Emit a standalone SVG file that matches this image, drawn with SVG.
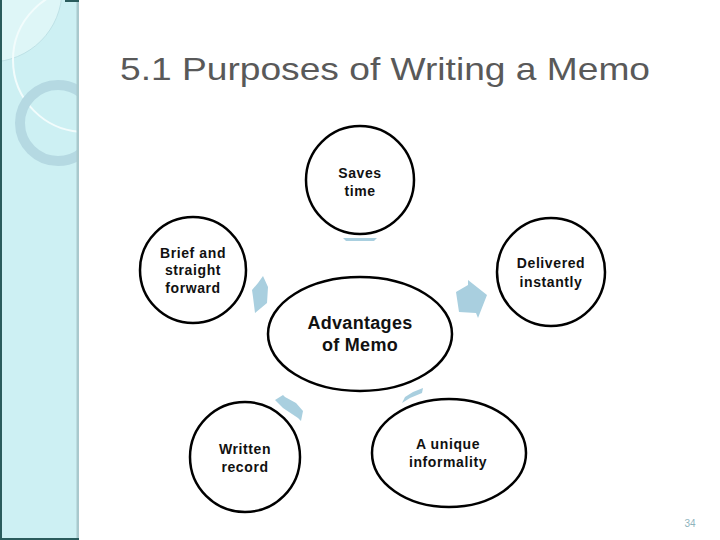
<svg xmlns="http://www.w3.org/2000/svg" width="720" height="540" viewBox="0 0 720 540">
<defs>
<style>
.node{fill:#fff;stroke:#000;stroke-width:2.5}
.lbl{font-family:"Liberation Sans",Arial,sans-serif;font-weight:bold;font-size:14px;letter-spacing:0.6px;fill:#111;text-anchor:middle}
.big{font-size:18px;letter-spacing:0.3px}
.arr{fill:#a9cfdf}
</style>
<clipPath id="panel"><rect x="0" y="0" width="79" height="540"/></clipPath>
</defs>
<rect width="720" height="540" fill="#fff"/>
<g id="sidebar" clip-path="url(#panel)">
<rect x="0" y="0" width="79" height="540" fill="#cdf0f3"/>
<circle cx="-10" cy="-10" r="72" fill="#def6f7" stroke="#b9dde2" stroke-width="0.8"/>
<circle cx="85" cy="60" r="72" fill="none" stroke="#f2fcfc" stroke-width="2"/>
<circle cx="58" cy="123" r="38" fill="none" stroke="#b5d9e2" stroke-width="10"/>
<rect x="0" y="0" width="2" height="540" fill="#2a5c5c"/>
<rect x="76.5" y="0" width="2.5" height="540" fill="#a9c9cd"/>
<rect x="65" y="0" width="14" height="2" fill="#2a5c5c"/>
<rect x="0" y="538" width="79" height="2" fill="#2a5c5c"/>
</g>
<text id="title" x="120" y="80" font-family="'Gill Sans','Liberation Sans',Arial,sans-serif" font-size="32" fill="#595959" textLength="530" lengthAdjust="spacingAndGlyphs">5.1 Purposes of Writing a Memo</text>
<g id="connectors">
<polygon class="arr" points="343,238 377,238 374,241 346,241"/>
<polygon class="arr" points="263,276 268,287 267,303 255,313 253,297 252,290 258,283"/>
<polygon class="arr" points="487,295 468,280 468,285 456,292 459,312 476,313 478,318"/>
<polygon class="arr" points="275,400 283,395 285,397 296,403 303,411 301,421 298,418 283,408"/>
<polygon class="arr" points="423,388 422,393 410,398 402,403 405,397 413,392"/>
</g>
<g id="node-center">
<ellipse class="node" cx="360" cy="334" rx="92" ry="57"/>
<text class="lbl big" x="360" y="329">Advantages</text>
<text class="lbl big" x="360" y="351">of Memo</text>
</g>
<g id="node-saves">
<circle class="node" cx="360" cy="180" r="54"/>
<text class="lbl" x="360" y="178">Saves</text>
<text class="lbl" x="360" y="196">time</text>
</g>
<g id="node-brief">
<circle class="node" cx="193" cy="270" r="53"/>
<text class="lbl" x="193" y="258">Brief and</text>
<text class="lbl" x="193" y="275">straight</text>
<text class="lbl" x="193" y="293">forward</text>
</g>
<g id="node-delivered">
<circle class="node" cx="551" cy="272" r="54"/>
<text class="lbl" x="551" y="268">Delivered</text>
<text class="lbl" x="551" y="287">instantly</text>
</g>
<g id="node-written">
<circle class="node" cx="245" cy="457" r="55"/>
<text class="lbl" x="245" y="454">Written</text>
<text class="lbl" x="245" y="472">record</text>
</g>
<g id="node-unique">
<ellipse class="node" cx="449" cy="453" rx="77" ry="54"/>
<text class="lbl" x="448" y="449">A unique</text>
<text class="lbl" x="448" y="467">informality</text>
</g>
<text id="page" x="690" y="527" font-family="'Liberation Sans',Arial,sans-serif" font-size="10" fill="#8fb4bd" text-anchor="middle">34</text>
</svg>
